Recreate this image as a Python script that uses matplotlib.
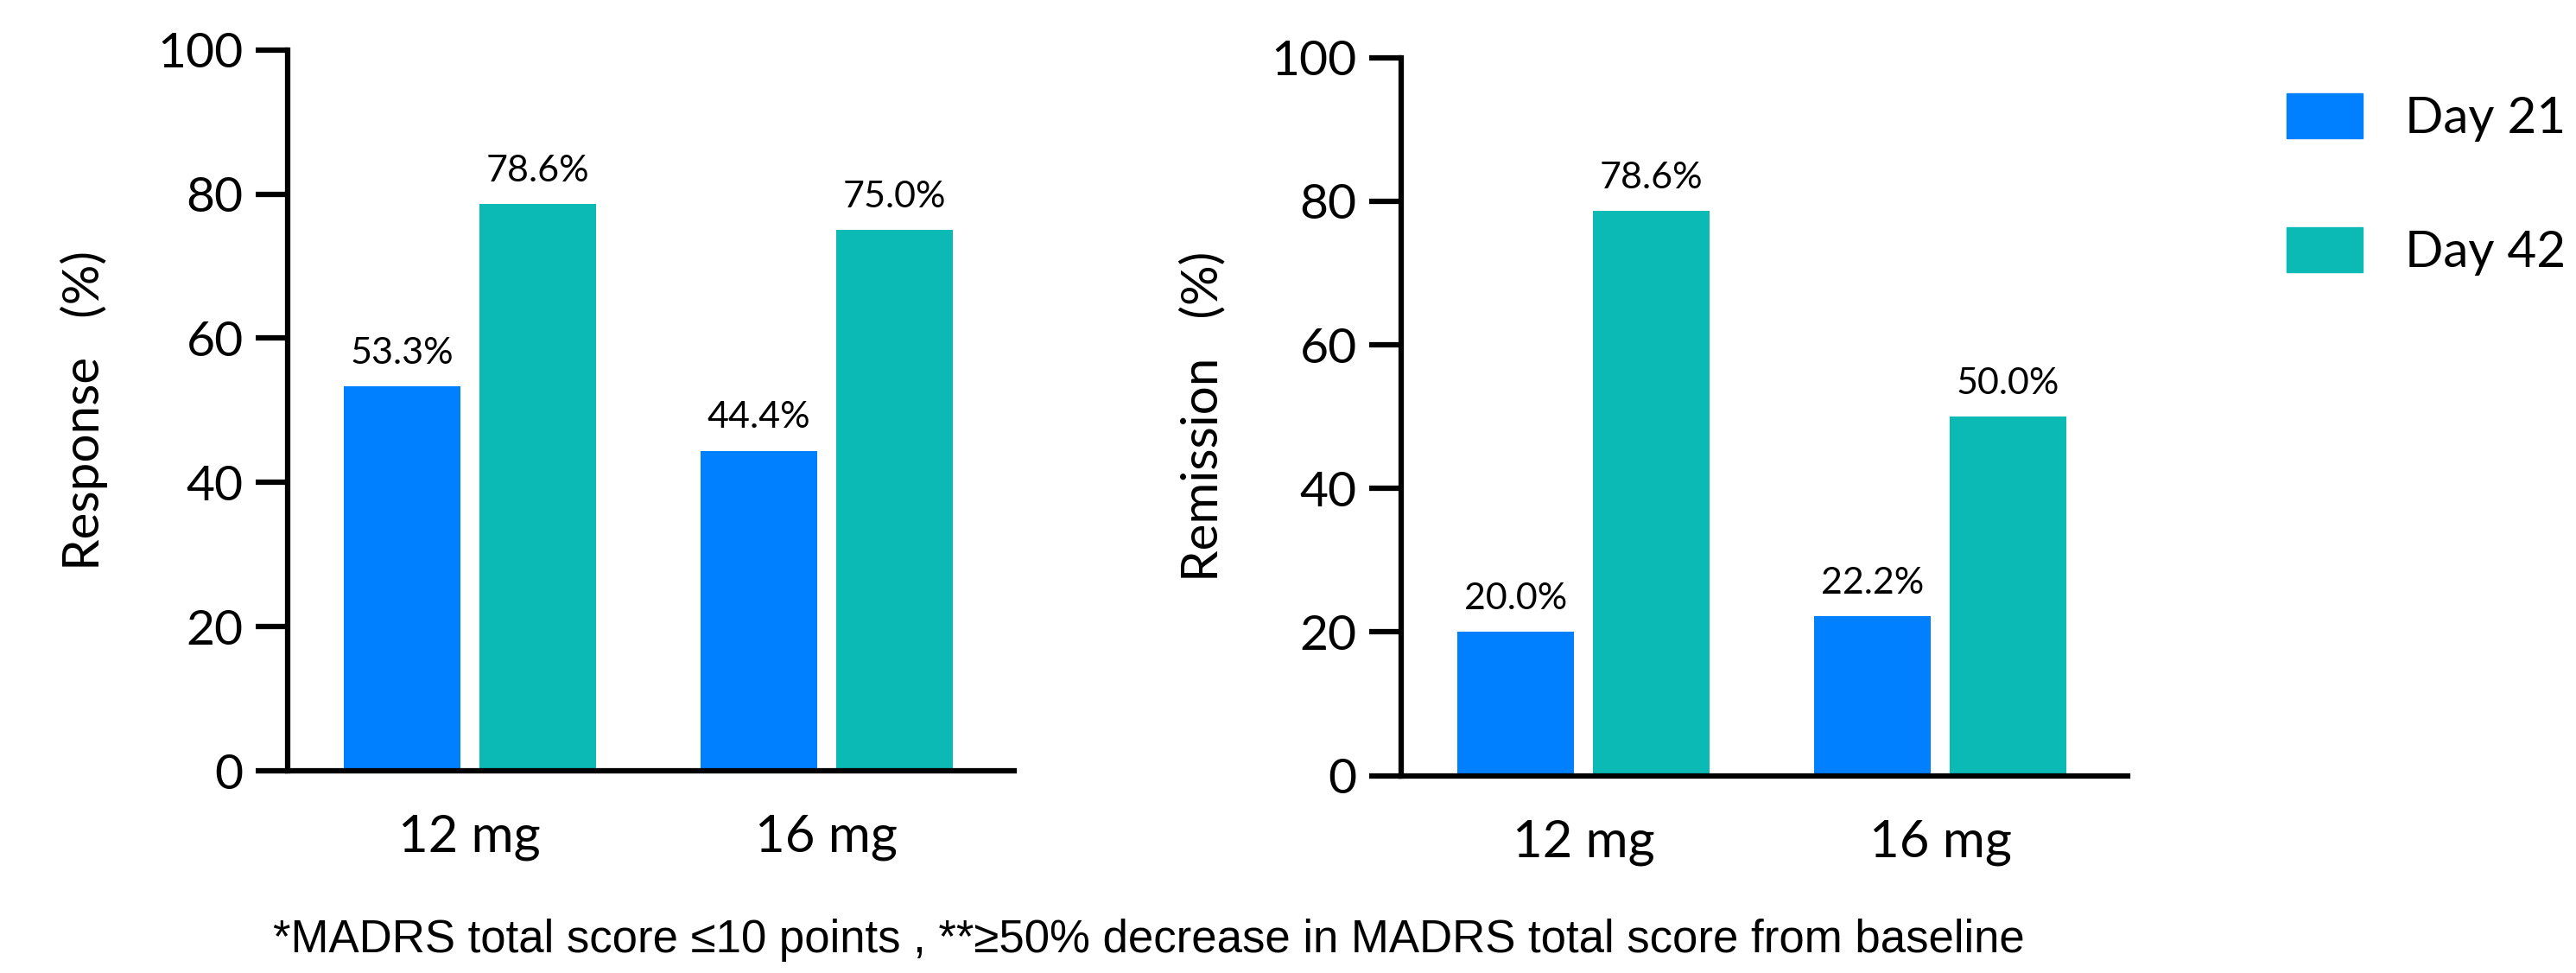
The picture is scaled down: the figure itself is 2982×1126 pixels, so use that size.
"""
Response and remission bar charts, day 21 versus day 42.
"""

import numpy as np
import matplotlib
matplotlib.use("Agg")
import matplotlib.pyplot as plt
from matplotlib.patches import Patch

# data
doses = ["12 mg", "16 mg"]
reeksen = ["Day 21", "Day 42"]
response_dag21 = [53.3, 44.4]
response_dag42 = [78.6, 75.0]
remissie_dag21 = [20.0, 22.2]
remissie_dag42 = [78.6, 50.0]
y_ticks = [0, 20, 40, 60, 80, 100]
voetnoot = "*MADRS total score \u226410 points , **\u226550% decrease in MADRS total score from baseline"

kleuren = ["#007FFF", "#0CBAB5"]

plt.rcParams["font.family"] = ["Lato", "DejaVu Sans"]

fig = plt.figure(figsize=(29.82, 11.26), dpi=100)
ax1 = fig.add_axes([0.1117, 0.2078, 0.2819, 0.741])
ax2 = fig.add_axes([0.544, 0.2028, 0.282, 0.738])

breedte = 0.327
verschuiving = 0.19


def teken_paneel(ax, dag21, dag42, ylabel, label_x):
    x = np.arange(len(doses))
    for i, waarden in enumerate([dag21, dag42]):
        pos = x + (i - 0.5) * 2 * verschuiving
        balken = ax.bar(pos, waarden, width=breedte, color=kleuren[i])
        for b, w in zip(balken, waarden):
            ax.annotate(f"{w:.1f}%", (b.get_x() + b.get_width() / 2, w),
                        xytext=(0, 14), textcoords="offset points",
                        ha="center", va="bottom", fontsize=31)

    ax.set_xlim(-0.51, 1.525)
    ax.set_ylim(0, 100)
    ax.set_yticks(y_ticks)
    ax.set_xticks(x)
    ax.set_xticklabels(doses)
    ax.spines["top"].set_visible(False)
    ax.spines["right"].set_visible(False)
    for s in ["left", "bottom"]:
        ax.spines[s].set_linewidth(4.5)
    ax.tick_params(axis="y", length=27, width=4.5, labelsize=41, pad=10)
    ax.tick_params(axis="x", length=0, labelsize=43, pad=36)
    ax.set_ylabel(ylabel, fontsize=42)
    ax.yaxis.set_label_coords(label_x, 0.5)


teken_paneel(ax1, response_dag21, response_dag42, "Response   (%)", -0.247)
teken_paneel(ax2, remissie_dag21, remissie_dag42, "Remission   (%)", -0.241)

handles = [Patch(color=k, label=r) for k, r in zip(kleuren, reeksen)]
fig.legend(handles=handles, loc="upper left", bbox_to_anchor=(0.878, 0.93),
           frameon=False, fontsize=42, handlelength=1.5, handleheight=1.0,
           labelspacing=1.7, handletextpad=0.85, borderpad=0)

fig.text(0.446, 0.034, voetnoot, ha="center", va="center",
         fontsize=38, family=["Liberation Sans", "DejaVu Sans"])

fig.savefig("out.png", dpi=100)
